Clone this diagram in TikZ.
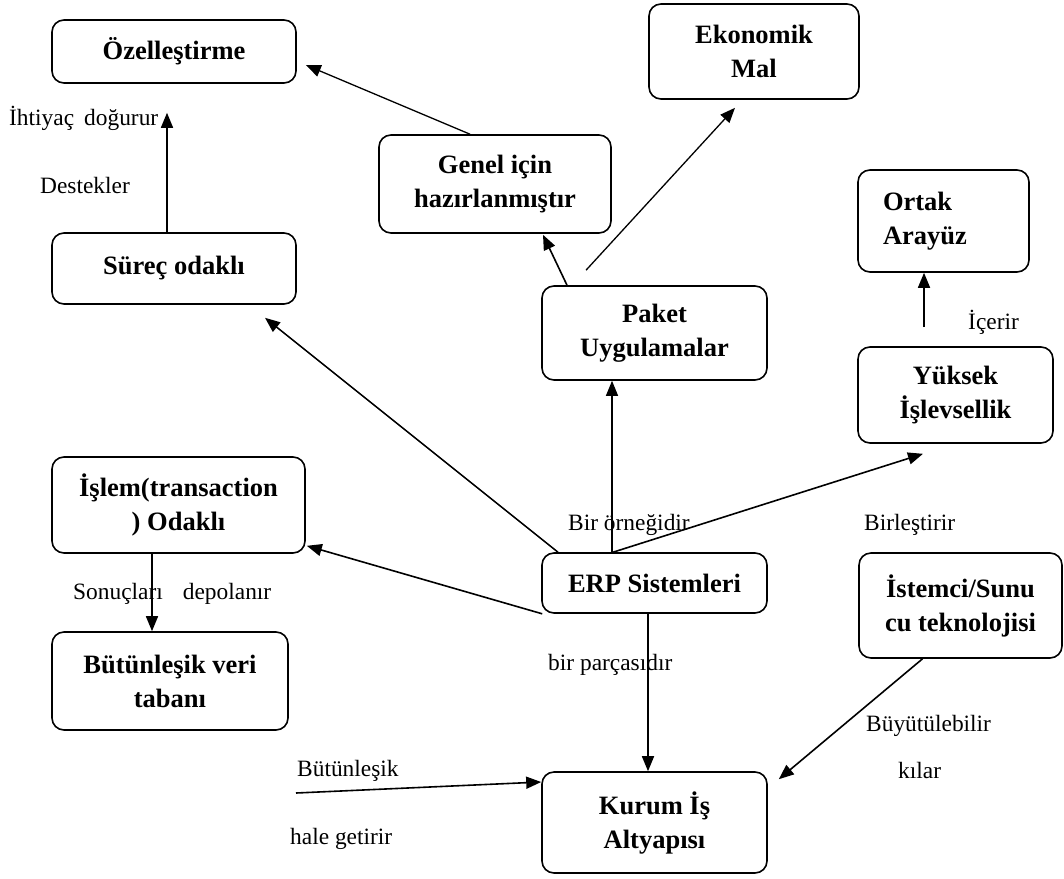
\documentclass[tikz,border=0pt]{standalone}
\usepackage{fontspec}
\setmainfont{Liberation Serif}
\usetikzlibrary{arrows.meta}
\begin{document}
\begin{tikzpicture}[x=1pt,y=-1pt,
  box/.style={draw, line width=1.6pt, rounded corners=12pt, align=center, inner sep=0pt,
    font=\fontsize{26.5}{34}\selectfont\bfseries},
  lbl/.style={anchor=west, inner sep=0pt, font=\fontsize{23.4}{28}\selectfont},
  arr/.style={line width=1.6pt, -{Triangle[length=15pt,width=12pt]}},
  thinarr/.style={arr, line width=1.2pt}]
\useasboundingbox (0,0) rectangle (1064,878);

% boxes
\node[box, minimum width=244pt, minimum height=63pt] (oz) at (174,51.5) {Özelleştirme};
\node[box, minimum width=244pt, minimum height=71pt] (surec) at (174,268.5) {Süreç odaklı};
\node[box, minimum width=232pt, minimum height=98pt] (genel) at (495,184) {Genel için\\hazırlanmıştır};
\node[box, minimum width=210pt, minimum height=95pt] (eko) at (754,51.5) {Ekonomik\\Mal};
\node[box, minimum width=171pt, minimum height=102pt, align=left, text width=121pt, inner xsep=25pt] (ortak) at (943.5,221) {Ortak\\Arayüz};
\node[box, minimum width=225pt, minimum height=94pt] (paket) at (654.5,333) {Paket\\Uygulamalar};
\node[box, minimum width=195pt, minimum height=96pt] (yuksek) at (955.5,395) {Yüksek\\İşlevsellik};
\node[box, minimum width=253pt, minimum height=96pt] (islem) at (178.5,505) {İşlem(transaction\\) Odaklı};
\node[box, minimum width=236pt, minimum height=98pt] (veri) at (170,681) {Bütünleşik veri\\tabanı};
\node[box, minimum width=225pt, minimum height=60pt] (erp) at (654.5,583) {ERP Sistemleri};
\node[box, minimum width=203pt, minimum height=105pt] (istemci) at (960.5,605.5) {İstemci/Sunu\\cu teknolojisi};
\node[box, minimum width=225pt, minimum height=101pt] (kurum) at (654.5,822.5) {Kurum İş\\Altyapısı};

% labels
\node[lbl] (l1) at (9,118) {İhtiyaç\hspace{10pt}doğurur};
\node[lbl] (l2) at (40,185) {Destekler};
\node[lbl] (l3) at (73,594) {Sonuçları\hspace{20pt}depolanır};
\node[lbl] (l4) at (568,525) {Bir örneğidir};
\node[lbl] (l5) at (864,525) {Birleştirir};
\node[lbl] (l6) at (548,665) {bir parçasıdır};
\node[lbl] (l7) at (968,322) {İçerir};
\node[lbl] (l8) at (866,726) {Büyütülebilir};
\node[lbl] (l9) at (898,770) {kılar};
\node[lbl] (l10) at (297,771) {Bütünleşik};
\node[lbl] (l11) at (290,839) {hale getirir};

% connectors
\coordinate (free) at (296,793);
\draw[arr, line width=1.3pt] ([xshift=-25pt]genel.north) -- ([xshift=9pt,yshift=-13.5pt]oz.east);
\draw[arr] ([xshift=-7pt]surec.north) -- ([xshift=-7pt,yshift=-29pt]oz.south);
\draw[arr] ([xshift=-87.5pt]paket.north) -- ([xshift=48pt,yshift=-1pt]genel.south);
\draw[arr, line width=1.3pt] ([xshift=-68.5pt,yshift=15pt]paket.north) -- ([xshift=-19pt,yshift=-8pt]eko.south);
\draw[arr, line width=1.5pt] ([xshift=-96.5pt]erp.north) -- ([xshift=91pt,yshift=-13pt]surec.south);
\draw[thinarr] ([xshift=-42.5pt]erp.north) -- ([xshift=-42.5pt]paket.south);
\draw[arr] ([xshift=1pt]erp.south west) -- ([xshift=1pt,yshift=8pt]islem.south east);
\draw[arr] ([xshift=-41.5pt]erp.north) -- ([xshift=-32.5pt,yshift=-10pt]yuksek.south);
\draw[arr] ([xshift=-6.5pt]erp.south) -- ([xshift=-6.5pt]kurum.north);
\draw[arr] ([xshift=-26.5pt]islem.south) -- ([xshift=-18pt]veri.north);
\draw[arr] ([xshift=-31.5pt,yshift=19pt]yuksek.north) -- ([xshift=-19.5pt]ortak.south);
\draw[arr] ([xshift=-38pt]istemci.south) -- ([xshift=11pt,yshift=-8pt]kurum.north east);
\draw[arr] (free) -- ([yshift=40.5pt]kurum.west);
\end{tikzpicture}
\end{document}
